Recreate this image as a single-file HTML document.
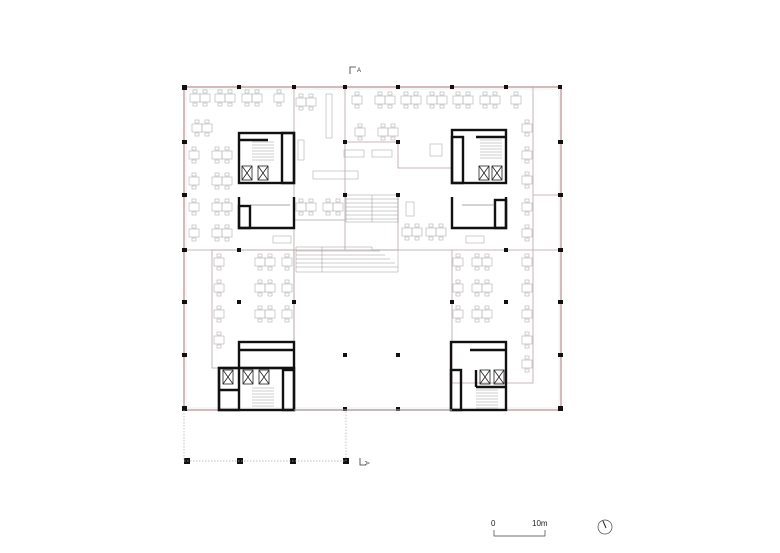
<!DOCTYPE html>
<html><head><meta charset="utf-8"><style>
html,body{margin:0;padding:0;background:#fff;}
svg{display:block;}
text{font-family:"Liberation Sans",sans-serif;}
</style></head><body>
<svg width="780" height="553" viewBox="0 0 780 553" xmlns="http://www.w3.org/2000/svg">
<defs>
<g id="d" fill="none" stroke="#bbb" stroke-width="0.7">
<rect x="-5" y="-4" width="10" height="8"/><rect x="-2" y="-8" width="4" height="3"/><rect x="-2" y="5" width="4" height="3"/>
</g>
<g id="dd"><use href="#d" x="-5"/><use href="#d" x="5"/></g>
<g id="el" fill="none" stroke="#222" stroke-width="0.8"><rect x="0" y="0" width="10" height="14"/><line x1="0" y1="0" x2="10" y2="14"/><line x1="10" y1="0" x2="0" y2="14"/></g>
<g id="st" stroke="#999" stroke-width="0.5"><line x1="0" y1="0" x2="22" y2="0"/><line x1="0" y1="3" x2="22" y2="3"/><line x1="0" y1="6" x2="22" y2="6"/><line x1="0" y1="9" x2="22" y2="9"/><line x1="0" y1="12" x2="22" y2="12"/><line x1="0" y1="15" x2="22" y2="15"/><line x1="0" y1="18" x2="22" y2="18"/></g>
</defs>
<rect width="780" height="553" fill="#fff"/>
<rect x="184" y="87" width="377" height="323" fill="none" stroke="#c9a9a9" stroke-width="1.6"/>
<rect x="186" y="89" width="373" height="319" fill="none" stroke="#ddd" stroke-width="0.5"/>
<g fill="none" stroke="#b9a3a3" stroke-width="0.8">
<line x1="294" y1="87" x2="294" y2="410"/>
<polyline points="345,87 345,142 398,142 398,168 452,168"/>
<line x1="184" y1="250" x2="561" y2="250"/>
<rect x="212" y="250" width="82" height="118"/>
<polyline points="452,250 452,383 533,383 533,87"/>
<line x1="294" y1="220" x2="345" y2="220"/>
<line x1="398" y1="195" x2="398" y2="250"/>
<line x1="345" y1="142" x2="345" y2="250"/>
<line x1="533" y1="195" x2="561" y2="195"/>
</g>
<g stroke="#999" stroke-width="0.5" fill="none">
<rect x="346" y="195" width="52" height="27"/>
<line x1="346" y1="199" x2="398" y2="199"/><line x1="346" y1="203" x2="398" y2="203"/><line x1="346" y1="207" x2="398" y2="207"/><line x1="346" y1="211" x2="398" y2="211"/><line x1="346" y1="215" x2="398" y2="215"/><line x1="346" y1="219" x2="398" y2="219"/>
<line x1="372" y1="195" x2="372" y2="222"/>
<polyline points="296,247 372,247 372,250 398,250 398,272 296,272 296,247"/>
<line x1="296" y1="251" x2="380" y2="251"/><line x1="296" y1="255" x2="385" y2="255"/><line x1="296" y1="259" x2="390" y2="259"/><line x1="296" y1="263" x2="395" y2="263"/><line x1="296" y1="267" x2="398" y2="267"/>
<line x1="322" y1="247" x2="322" y2="272"/>
</g>
<g>
<use href="#dd" x="200" y="98"/><use href="#dd" x="225" y="98"/><use href="#dd" x="252" y="98"/><use href="#d" x="279" y="98"/>
<use href="#dd" x="202" y="128"/>
<use href="#d" x="194" y="155"/><use href="#dd" x="222" y="155"/>
<use href="#d" x="194" y="181"/><use href="#dd" x="222" y="181"/>
<use href="#d" x="194" y="207"/><use href="#dd" x="222" y="207"/>
<use href="#d" x="194" y="233"/><use href="#dd" x="222" y="233"/>
<use href="#d" x="219" y="262"/><use href="#dd" x="265" y="262"/><use href="#d" x="287" y="262"/>
<use href="#d" x="219" y="288"/><use href="#dd" x="265" y="288"/><use href="#d" x="287" y="288"/>
<use href="#d" x="219" y="314"/><use href="#dd" x="265" y="314"/><use href="#d" x="287" y="314"/>
<use href="#d" x="219" y="340"/>
<use href="#d" x="357" y="100"/><use href="#dd" x="385" y="100"/><use href="#dd" x="411" y="100"/><use href="#dd" x="437" y="100"/><use href="#dd" x="463" y="100"/><use href="#dd" x="490" y="100"/><use href="#d" x="516" y="100"/>
<use href="#d" x="360" y="132"/><use href="#dd" x="388" y="132"/>
<use href="#d" x="527" y="128"/><use href="#d" x="527" y="155"/><use href="#d" x="527" y="180"/><use href="#d" x="527" y="207"/><use href="#d" x="527" y="233"/>
<use href="#d" x="527" y="262"/><use href="#d" x="527" y="288"/><use href="#d" x="527" y="314"/><use href="#d" x="527" y="340"/><use href="#d" x="527" y="364"/>
<use href="#d" x="458" y="262"/><use href="#dd" x="482" y="262"/>
<use href="#d" x="458" y="288"/><use href="#dd" x="482" y="288"/>
<use href="#d" x="458" y="314"/><use href="#dd" x="482" y="314"/>
<use href="#dd" x="306" y="102"/><use href="#dd" x="306" y="207"/><use href="#dd" x="333" y="207"/>
<use href="#dd" x="412" y="232"/><use href="#dd" x="436" y="232"/>
</g>
<g fill="none" stroke="#bbb" stroke-width="0.7">
<rect x="326" y="94" width="6" height="44"/>
<rect x="298" y="140" width="6" height="20"/>
<rect x="344" y="150" width="20" height="7"/><rect x="372" y="150" width="20" height="7"/>
<rect x="273" y="236" width="18" height="7"/><rect x="466" y="236" width="18" height="7"/>
<rect x="313" y="171" width="45" height="8"/>
<rect x="406" y="202" width="8" height="14"/><rect x="430" y="144" width="12" height="12"/>
</g>
<g fill="none" stroke="#111" stroke-width="2.4">
<rect x="239" y="133" width="55" height="50"/><line x1="239" y1="140" x2="268" y2="140"/><rect x="282" y="133" width="12" height="50"/>
<polyline points="239,197 239,228 294,228 294,197"/><rect x="239" y="206" width="11" height="22"/>
<rect x="452" y="130" width="54" height="53"/><line x1="476" y1="137" x2="506" y2="137"/><rect x="452" y="137" width="11" height="46"/>
<polyline points="452,197 452,228 506,228 506,197"/><rect x="495" y="200" width="11" height="28"/>
<rect x="239" y="342" width="55" height="26"/><line x1="239" y1="350" x2="294" y2="350"/>
<rect x="219" y="368" width="75" height="42"/><rect x="219" y="368" width="20" height="42"/><line x1="219" y1="390" x2="239" y2="390"/><rect x="283" y="370" width="11" height="40"/>
<rect x="451" y="342" width="55" height="68"/><line x1="470" y1="350" x2="506" y2="350"/><rect x="451" y="370" width="10" height="40"/>
<line x1="476" y1="370" x2="476" y2="387"/><line x1="476" y1="387" x2="506" y2="387"/>
</g>
<g>
<use href="#el" x="242" y="166"/><use href="#el" x="258" y="166"/>
<use href="#el" x="479" y="166"/><use href="#el" x="492" y="166"/>
<use href="#el" x="223" y="370"/><use href="#el" x="243" y="370"/><use href="#el" x="259" y="370"/>
<use href="#el" x="480" y="370"/><use href="#el" x="494" y="370"/>
<use href="#st" x="252" y="142"/><use href="#st" x="480" y="140"/><use href="#st" x="252" y="388"/><use href="#st" x="476" y="390"/>
</g>
<g stroke="#555" stroke-width="0.5" fill="none"><line x1="250" y1="205" x2="290" y2="205"/><line x1="462" y1="205" x2="495" y2="205"/></g>
<g fill="#111">
<rect x="182" y="85" width="5" height="5"/><rect x="237" y="85" width="4" height="4"/><rect x="292" y="85" width="4" height="4"/><rect x="343" y="85" width="4" height="4"/><rect x="396" y="85" width="4" height="4"/><rect x="450" y="85" width="4" height="4"/><rect x="504" y="85" width="4" height="4"/><rect x="558" y="85" width="4" height="4"/>
<rect x="182" y="140" width="5" height="4"/><rect x="182" y="193" width="5" height="4"/><rect x="182" y="248" width="5" height="4"/><rect x="182" y="300" width="5" height="4"/><rect x="182" y="353" width="5" height="4"/><rect x="182" y="406" width="5" height="5"/>
<rect x="558" y="140" width="5" height="4"/><rect x="558" y="193" width="5" height="4"/><rect x="558" y="248" width="5" height="4"/><rect x="558" y="300" width="5" height="4"/><rect x="558" y="353" width="5" height="4"/><rect x="558" y="406" width="5" height="5"/>
<rect x="343" y="140" width="4" height="4"/><rect x="396" y="140" width="4" height="4"/><rect x="343" y="193" width="4" height="4"/><rect x="396" y="193" width="4" height="4"/>
<rect x="237" y="300" width="4" height="4"/><rect x="292" y="300" width="4" height="4"/><rect x="450" y="300" width="4" height="4"/><rect x="504" y="300" width="4" height="4"/>
<rect x="343" y="353" width="4" height="4"/><rect x="396" y="353" width="4" height="4"/><rect x="343" y="407" width="4" height="4"/><rect x="396" y="407" width="4" height="4"/>
<rect x="504" y="248" width="4" height="4"/><rect x="237" y="248" width="4" height="4"/>
<rect x="184" y="458" width="6" height="6"/><rect x="237" y="458" width="6" height="6"/><rect x="290" y="458" width="6" height="6"/><rect x="343" y="458" width="6" height="6"/>
</g>
<g fill="none" stroke="#aaa" stroke-width="0.7" stroke-dasharray="1.5,1.5">
<polyline points="184,410 184,461 346,461 346,410"/>
</g>
<line x1="294" y1="410" x2="452" y2="410" stroke="#aaa" stroke-width="1"/>
<g stroke="#333" stroke-width="0.8" fill="none"><polyline points="350,74 350,67 356,67"/><polyline points="360,458 360,465 366,465"/></g>
<text x="357" y="72" font-size="6" fill="#333">A</text>
<text x="366" y="466" font-size="6" fill="#333" transform="rotate(90 368 463)">A</text>
<text x="491" y="526" font-size="8" fill="#222">0</text>
<text x="532" y="526" font-size="8" fill="#222">10m</text>
<polyline points="494,530 494,536 545,536 545,530" fill="none" stroke="#444" stroke-width="0.7"/>
<circle cx="605" cy="527" r="7" fill="none" stroke="#444" stroke-width="0.7"/>
<line x1="603" y1="521" x2="606" y2="528" stroke="#222" stroke-width="1"/>
</svg>
</body></html>
